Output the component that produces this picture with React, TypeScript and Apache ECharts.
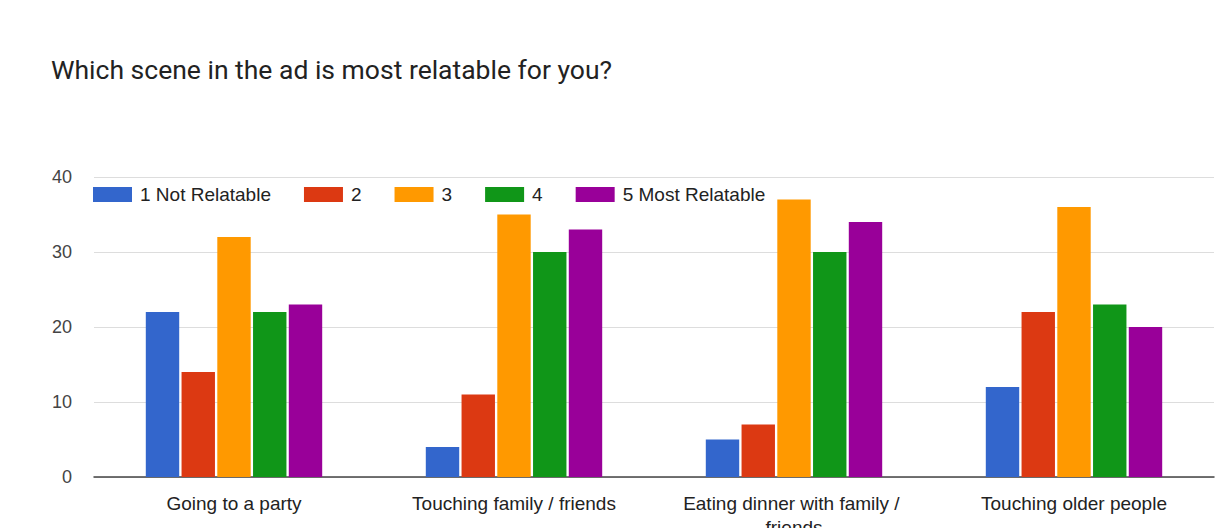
import React, { useEffect, useRef } from "react";
import * as echarts from "echarts";

const categories = [
  "Going to a party",
  "Touching family / friends",
  "Eating dinner with family / friends",
  "Touching older people",
];
const seriesNames = ["1 Not Relatable", "2", "3", "4", "5 Most Relatable"];
const s1 = [22, 4, 5, 12];
const s2 = [14, 11, 7, 22];
const s3 = [32, 35, 37, 36];
const s4 = [22, 30, 30, 23];
const s5 = [23, 33, 34, 20];
const colors = ["#3366cc", "#dc3912", "#ff9900", "#109618", "#990099"];
const yTicks = [0, 10, 20, 30, 40];

const FONT = "Arial, 'Liberation Sans', sans-serif";

export default function App() {
  const ref = useRef<HTMLDivElement>(null);
  useEffect(() => {
    if (!ref.current) return;
    const chart = echarts.init(ref.current, null, { renderer: "svg" });
    const data = [s1, s2, s3, s4, s5];
    chart.setOption({
      animation: false,
      backgroundColor: "#ffffff",
      color: colors,
      title: {
        text: "Which scene in the ad is most relatable for you?",
        left: 46,
        top: 51,
        textStyle: {
          fontFamily: "Roboto, Arial, sans-serif",
          fontSize: 26.5,
          fontWeight: "normal",
          color: "#222222",
        },
      },
      legend: {
        left: 88,
        top: 180,
        itemWidth: 39,
        itemHeight: 15,
        itemGap: 33,
        icon: "rect",
        textStyle: {
          fontFamily: FONT,
          fontSize: 19,
          color: "#222222",
          padding: [0, 0, 0, 3],
        },
        data: seriesNames,
      },
      grid: {
        left: 94,
        right: 1,
        top: 177,
        bottom: 51,
        containLabel: false,
        outerBoundsMode: "none",
      },
      xAxis: {
        type: "category",
        data: categories,
        axisLine: { lineStyle: { color: "#444444", width: 1.5 } },
        axisTick: { show: false },
        axisLabel: {
          fontFamily: FONT,
          fontSize: 19,
          color: "#222222",
          margin: 14,
          width: 250,
          overflow: "break",
          interval: 0,
          lineHeight: 24,
        },
      },
      yAxis: {
        type: "value",
        min: yTicks[0],
        max: yTicks[yTicks.length - 1],
        interval: 10,
        axisLine: { show: false },
        axisTick: { show: false },
        splitLine: { lineStyle: { color: "#dddddd" } },
        axisLabel: {
          fontFamily: FONT,
          fontSize: 18,
          color: "#444444",
          margin: 22,
          verticalAlign: "middle",
        },
      },
      series: seriesNames.map((name, i) => ({
        name,
        type: "bar",
        data: data[i],
        barCategoryGap: "37%",
        barGap: "7%",
        itemStyle: { color: colors[i] },
      })),
    });
    return () => chart.dispose();
  }, []);
  return (
    <div
      ref={ref}
      style={{ position: "fixed", left: 0, top: 0, width: 1215, height: 528 }}
    />
  );
}
